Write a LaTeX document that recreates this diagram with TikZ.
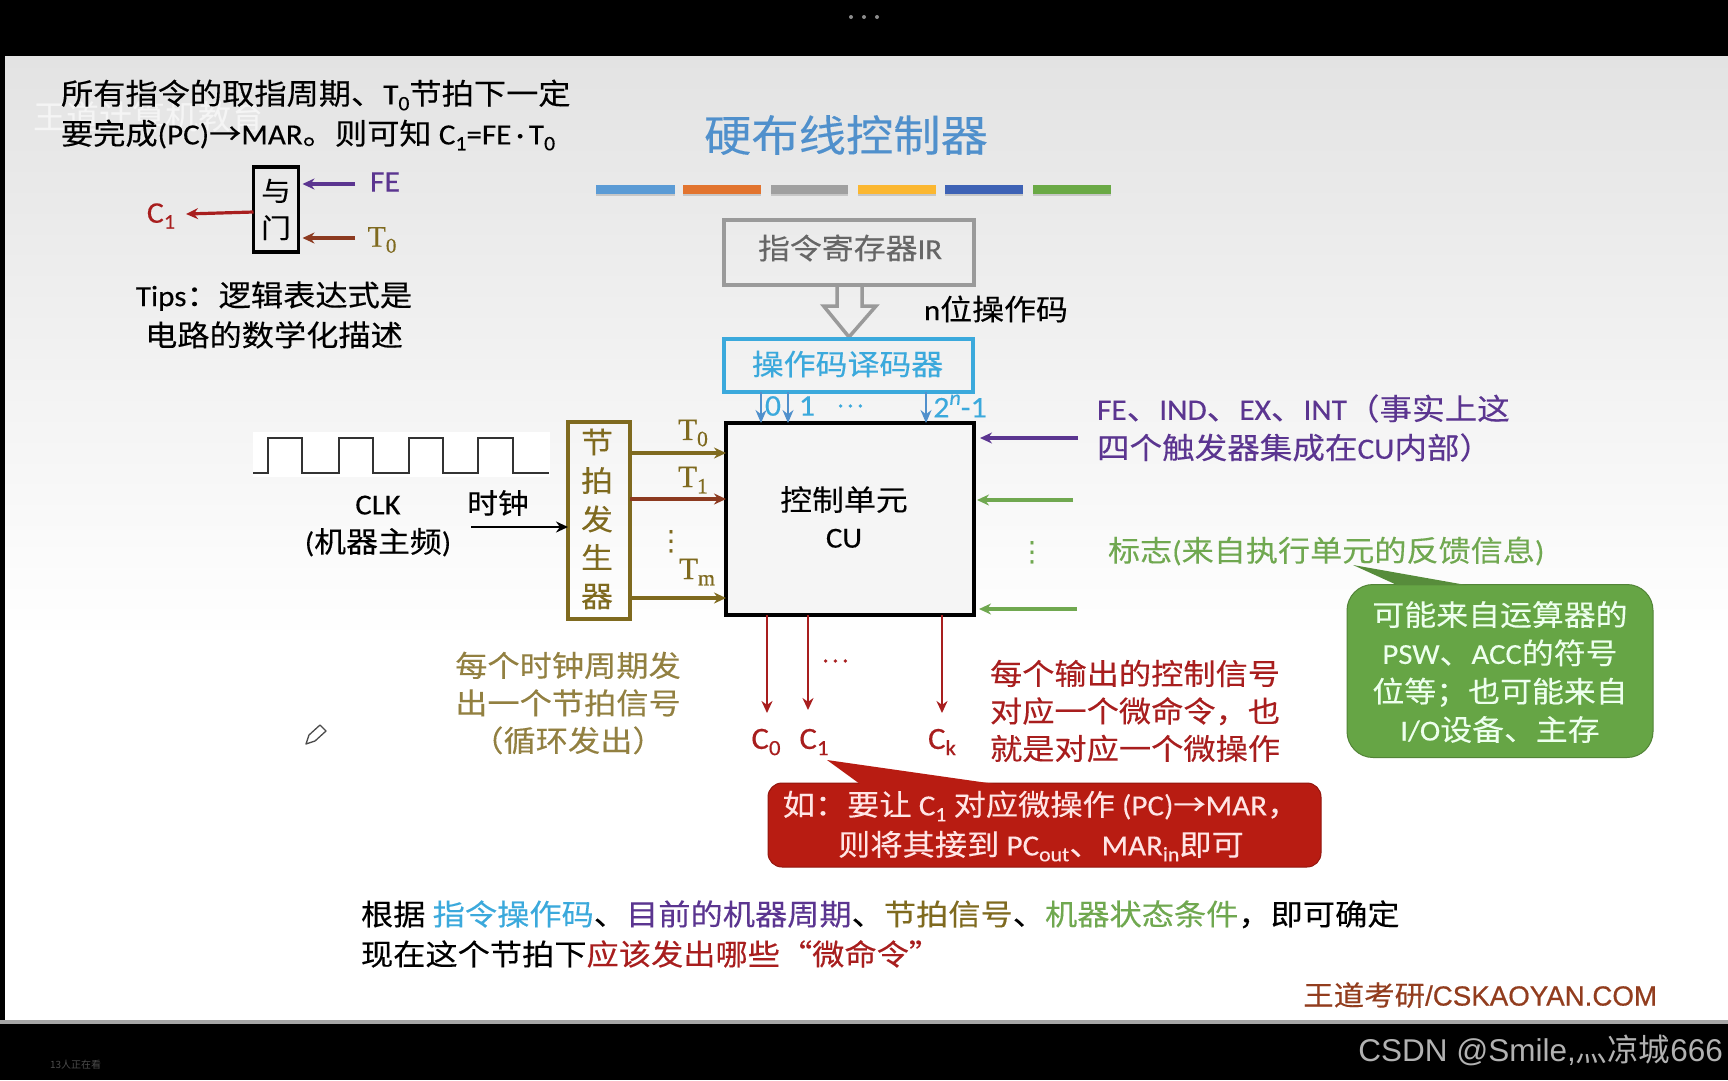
\documentclass[tikz,border=0pt]{standalone}
\usepackage{graphicx}
\usepackage{fontspec}
\usetikzlibrary{arrows.meta,calc}
\setmainfont{Noto Sans CJK SC}[FakeStretch=1.1,FakeBold=0.25]
\newfontfamily\latf{Carlito}[FakeStretch=1.06,FakeBold=0.3]
\newfontfamily\serf{Liberation Serif}[FakeBold=0.4]
\newfontfamily\sansf{Liberation Sans}
\newfontfamily\brandf{Liberation Sans}[FakeBold=0.5]
\newfontfamily\symf{DejaVu Sans}
\newfontfamily\cjkplain{Noto Sans CJK SC}
\newcommand\la[1]{{\latf #1}}
\newcommand\dn[1]{\raisebox{-.2em}{\scalebox{.7}{#1}}}
\newcommand\upp[1]{\raisebox{.42em}{\scalebox{.7}{#1}}}
\newcommand\fsz[2]{\fontsize{#1}{#2}\selectfont}
\definecolor{cblue}{HTML}{3BA9DC}
\definecolor{ctitle}{HTML}{5090CC}
\definecolor{cpurple}{HTML}{5B3590}
\definecolor{cgreen}{HTML}{70A850}
\definecolor{cgreenb}{HTML}{66A545}
\definecolor{colive}{HTML}{7F6A1F}
\definecolor{cbrown}{HTML}{8C3A20}
\definecolor{cred}{HTML}{A81E1E}
\definecolor{credb}{HTML}{B81C12}
\definecolor{cgray}{HTML}{9A9A9A}
\tikzset{
  txt/.style={inner sep=0pt,outer sep=0pt,align=center},
  lefttxt/.style={inner sep=0pt,outer sep=0pt,align=left,anchor=west},
  boxn/.style={draw,outer sep=0pt,inner sep=0pt,line width=4pt},
  arr/.style={-{Stealth[length=12pt,width=11pt]},line width=3.2pt},
  thinarr/.style={-{Stealth[length=13pt,width=11pt]},line width=1.4pt,color=ctitle},
}
\begin{document}
\begin{tikzpicture}[x=1pt,y=-1pt]
\useasboundingbox (0,0) rectangle (1728,1080);
% screen
\fill[black] (0,0) rectangle (1728,1080);
\shade[top color=black!11,bottom color=white] (5,56) rectangle (1728,640);
\fill[white] (5,640) rectangle (1728,1020);
\fill[black!35] (0,1020) rectangle (1728,1024);
\foreach \xx in {851,864,877}{\fill[black!45] (\xx,17) circle (2pt);}
\node[txt,text=white,opacity=.6,font=\fsz{33}{36}\cjkplain] (wm) at (149,117) {王道计算机教育};
% top-left text
\node[lefttxt,font=\fsz{29.3}{40}] (fetch) at (61,115) {所有指令的取指周期、\la{T\dn{0}}节拍下一定\\要完成\la{(PC)}→\la{MAR}。则可知 \la{C\dn{1}=FE\,·\,T\dn{0}}};
\node[boxn,line width=3.5pt,minimum width=45pt,minimum height=85pt,align=center,text width=40pt,font=\fsz{27}{37}] (gate) at (276,209.5) {与\\门};
\node[txt,text=cpurple,font=\fsz{30}{32}\latf] (lfe) at (385,182) {FE};
\node[txt,text=colive,font=\fsz{30}{32}\serf] (lt0) at (382,240) {T\dn{0}};
\node[txt,text=cred,font=\fsz{30}{32}\latf] (lc1) at (161,216) {C\dn{1}};
\coordinate (feS) at (355,184);
\coordinate (t0S) at (355,238);
\coordinate (c1E) at (186,214);
\draw[arr,color=cpurple] (feS) -- ($(feS -| gate.east)+(4,0)$);
\draw[arr,color=cbrown] (t0S) -- ($(t0S -| gate.east)+(4,0)$);
\draw[arr,color=cred] (gate.west |- 0,212) -- (c1E);
\node[txt,font=\fsz{29.3}{40}] (tips) at (274,315) {\la{Tips}：逻辑表达式是\\电路的数学化描述};
% title & bars
\node[txt,text=ctitle,font=\fsz{43}{48}] (title) at (846,135) {硬布线控制器};
\foreach \a/\b/\c in {596/675/5B9BD5,682.5/761/E2742F,771/848/A0A0A0,857.5/936/FBB731,945/1023/3E62B5,1033/1111/6AA945}{
  \definecolor{barc}{HTML}{\c}
  \fill[black!22] (\a,187) rectangle (\b,196);
  \fill[barc] (\a,185) rectangle (\b,194);
}
% IR
\node[boxn,draw=cgray,text=black!60,minimum width=250pt,minimum height=65pt] (ir) at (849,252.5) {};
\node[txt,text=black!60,font=\fsz{29}{32}] (irt) at (850,248) {指令寄存器\la{IR}};
\draw[cgray,line width=3.5pt,line join=miter] (837,285) -- (837,306) -- (823.6,306) -- (849,337) -- (876,306) -- (862,306) -- (862,285);
\node[txt,font=\fsz{29}{32}] (nbit) at (996,309) {\la{n}位操作码};
\node[boxn,draw=cblue,minimum width=249pt,minimum height=53pt] (dec) at (848,365.5) {};
\node[txt,text=cblue,font=\fsz{29}{32}] (dect) at (847.5,364) {操作码译码器};
% CU
\node[boxn,line width=4pt,minimum width=248pt,minimum height=192pt,fill=white!96!black] (cu) at (850,519) {};
\node[txt,font=\fsz{29}{37}] (cut) at (844,517) {控制单元\\\la{CU}};
\foreach \n/\xx in {a/761,b/788,c/926}{
  \coordinate (d\n) at (\xx,392);
  \draw[thinarr] (d\n) -- (d\n |- cu.north);
}
\node[txt,text=cblue,font=\fsz{30}{34}\latf] (l0) at (773,406) {0};
\node[txt,text=cblue,font=\fsz{30}{34}\latf] (l1) at (807,406) {1};
\node[txt,text=cblue,font=\fsz{24}{26}] (ldots) at (850,406) {…};
\node[txt,text=cblue,font=\fsz{30}{34}\latf] (l2) at (960,406) {2\upp{\textit{n}}-1};
% clock
\fill[white] (253,432) rectangle (550,477);
\coordinate (clk) at (253,473);
\draw[black!80,line width=2pt] (clk) -- (268,473) -- (268,438) -- (302,438) -- (302,473) -- (339,473) -- (339,438) -- (373,438) -- (373,473) -- (409,473) -- (409,438) -- (443,438) -- (443,473) -- (478,473) -- (478,438) -- (513,438) -- (513,473) -- (549,473);
\node[txt,font=\fsz{29}{38}] (clkt) at (378,526) {\la{CLK}\\\la{(}机器主频\la{)}};
\node[txt,font=\fsz{28}{32}] (shiz) at (498,503) {时钟};
% beat generator
\node[boxn,draw=colive,minimum width=62pt,minimum height=197pt] (beat) at (599,520.5) {};
\node[txt,text=colive,font=\fsz{29}{38.5}] (beatt) at (597,519) {节\\拍\\发\\生\\器};
\coordinate (clkS) at (471,527);
\draw[arr,color=black,line width=2.8pt] (clkS) -- (clkS -| beat.west);
\foreach \n/\yy/\cc in {a/453/colive,b/499/cbrown,c/598/colive}{
  \coordinate (tb\n) at (630,\yy);
  \draw[arr,color=\cc] (tb\n) -- (tb\n -| cu.west);
}
\node[txt,text=colive,font=\fsz{31}{34}\serf] (t0) at (693,433) {T\dn{0}};
\node[txt,text=colive,font=\fsz{31}{34}\serf] (t1) at (693,480) {T\dn{1}};
\node[txt,text=colive,font=\fsz{31}{34}\serf] (tm) at (697,572) {T\dn{m}};
\node[txt,text=colive,font=\fsz{28}{30}\symf] (tdots) at (671,542) {⋮};
\node[txt,text=colive!85!white,font=\fsz{29.3}{37.5}] (beatnote) at (568,703) {每个时钟周期发\\出一个节拍信号\\（循环发出）};
% pencil
\draw[black!70,line width=1.3pt,line join=round] (306,744) -- (309,735) -- (320,725) -- (326,731) -- (315,741) -- cycle;
% right side inputs
\coordinate (ip) at (1078,438);
\coordinate (ig1) at (1073,500);
\coordinate (ig2) at (1077,609);
\draw[arr,color=cpurple,line width=3.4pt] (ip) -- ($(ip -| cu.east)+(6,0)$);
\draw[arr,color=cgreen,line width=3.4pt] (ig1) -- ($(ig1 -| cu.east)+(3,0)$);
\draw[arr,color=cgreen,line width=3.4pt] (ig2) -- ($(ig2 -| cu.east)+(5,0)$);
\node[lefttxt,text=cpurple,font=\fsz{29.6}{39}] (ptxt) at (1097,428) {\la{FE}、\la{IND}、\la{EX}、\la{INT}（事实上这\\四个触发器集成在\la{CU}内部）};
\node[txt,text=cgreen,font=\fsz{28}{30}\symf] (gdots) at (1032,553) {⋮};
\node[lefttxt,text=cgreen,font=\fsz{29.2}{32}] (flag) at (1108,551) {标志\la{(}来自执行单元的反馈信息\la{)}};
% green callout
\node[outer sep=0pt,inner sep=0pt,fill=cgreenb,draw=cgreenb!80!black,line width=1pt,rounded corners=26pt,minimum width=306pt,minimum height=173pt] (gc) at (1500,671) {};
\coordinate (gtip) at (1353,565);
\fill[cgreenb!85!black] (gtip) -- (1466,585) -- (1397,585) -- cycle;
\node[txt,text=white!93!green,font=\fsz{29}{38.3}] (gct) at (1500,672) {可能来自运算器的\\\la{PSW}、\la{ACC}的符号\\位等；也可能来自\\\la{I/O}设备、主存};
% outputs
\foreach \n/\xx/\yy in {a/767/713,b/808/710,c/942/713}{
  \coordinate (c\n) at (\xx,\yy);
  \draw[arr,color=cred,line width=2.6pt] (c\n |- cu.south) -- (c\n);
}
\node[txt,text=cred,font=\fsz{24}{26}] (cdots) at (835,661) {…};
\node[txt,text=cred,font=\fsz{31}{34}\latf] (c0l) at (766,742) {C\dn{0}};
\node[txt,text=cred,font=\fsz{31}{34}\latf] (c1l) at (814,742) {C\dn{1}};
\node[txt,text=cred,font=\fsz{31}{34}\latf] (ckl) at (942,742) {C\dn{k}};
\node[lefttxt,text=cred,font=\fsz{29.3}{37.5}] (rednote) at (990,711) {每个输出的控制信号\\对应一个微命令，也\\就是对应一个微操作};
% red callout
\node[outer sep=0pt,inner sep=0pt,fill=credb,draw=credb!80!black,line width=1pt,rounded corners=14pt,minimum width=553pt,minimum height=84pt] (rc) at (1044.5,825) {};
\coordinate (rtip) at (827,760);
\fill[credb] (rtip) -- (995,784) -- (860,784) -- cycle;
\node[txt,text=white!90!red,font=\fsz{29.3}{40}] (rct) at (1041,826) {如：要让 \la{C\dn{1}} 对应微操作 \la{(PC)}→\la{MAR}，\\则将其接到 \la{PC\dn{out}}、\la{MAR\dn{in}}即可};
% bottom text
\node[lefttxt,font=\fsz{29.3}{40}] (sum) at (361,934) {根据 \textcolor{cblue}{指令操作码}、\textcolor{cpurple}{目前的机器周期}、\textcolor{colive}{节拍信号}、\textcolor{cgreen}{机器状态条件}，即可确定\\现在这个节拍下\textcolor{cred}{应该发出哪些“微命令”}};
\node[txt,anchor=east,text=cbrown!95!orange,font=\fsz{27.7}{30}] (brand) at (1657,995) {王道考研{\brandf /CSKAOYAN.COM}};
% footer
\node[txt,anchor=east,text=black!30,font=\fsz{31.5}{34}\cjkplain] (csdn) at (1723,1050) {{\sansf CSDN @Smile,}灬凉城{\sansf 666}};
\node[txt,anchor=west,text=black!70!white,font=\fsz{10}{12}\cjkplain] (view) at (50,1065) {13人正在看};
\end{tikzpicture}
\end{document}
